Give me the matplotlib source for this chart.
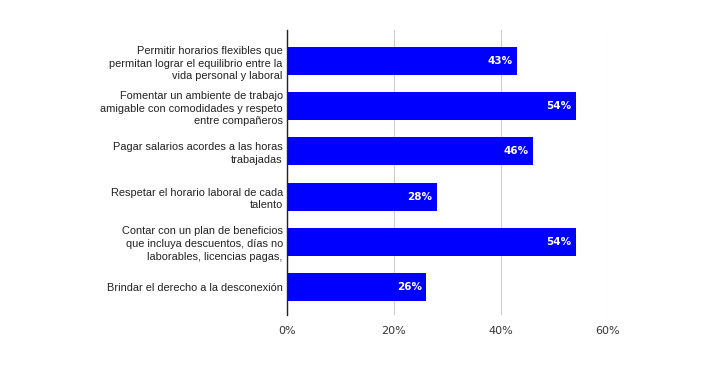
import matplotlib.pyplot as plt
from matplotlib.ticker import FuncFormatter

plt.rcParams['font.family'] = ['Liberation Sans', 'DejaVu Sans']

# Datos
categorias = [
    'Permitir horarios flexibles que\npermitan lograr el equilibrio entre la\nvida personal y laboral',
    'Fomentar un ambiente de trabajo\namigable con comodidades y respeto\nentre compañeros',
    'Pagar salarios acordes a las horas\ntrabajadas',
    'Respetar el horario laboral de cada\ntalento',
    'Contar con un plan de beneficios\nque incluya descuentos, días no\nlaborables, licencias pagas,',
    'Brindar el derecho a la desconexión',
]
valores = [43, 54, 46, 28, 54, 26]
ticks = [0, 20, 40, 60]

fig = plt.figure(figsize=(7.12, 3.65), dpi=100)
ax = fig.add_axes([0.403, 0.137, 0.451, 0.781])

y = list(range(len(categorias)))
ax.barh(y, valores, height=0.62, color='#0000ff', zorder=3)

for yi, v in zip(y, valores):
    ax.text(v - 0.8, yi, f'{v}%', ha='right', va='center', color='white',
            fontsize=7.5, fontweight='bold', family='DejaVu Sans', zorder=4)

ax.set_yticks(y)
ax.set_yticklabels(categorias, fontsize=7.9, color='#222222', linespacing=1.35)
ax.set_ylim(5.62, -0.69)
ax.set_xlim(0, 60)
ax.set_xticks(ticks)
ax.xaxis.set_major_formatter(FuncFormatter(lambda v, p: f'{v:.0f}%'))
ax.tick_params(axis='x', length=0, labelsize=8, labelcolor='#333333', pad=8)
for lbl in ax.get_xticklabels():
    lbl.set_family('DejaVu Sans')
ax.tick_params(axis='y', length=0, pad=3)
ax.grid(axis='x', color='#cccccc', linewidth=0.8, zorder=0)
for s in ['top', 'right', 'bottom']:
    ax.spines[s].set_visible(False)
ax.spines['left'].set_color('#222222')
ax.spines['left'].set_linewidth(1.0)
ax.spines['left'].set_zorder(5)

fig.savefig('out.png', dpi=100)
